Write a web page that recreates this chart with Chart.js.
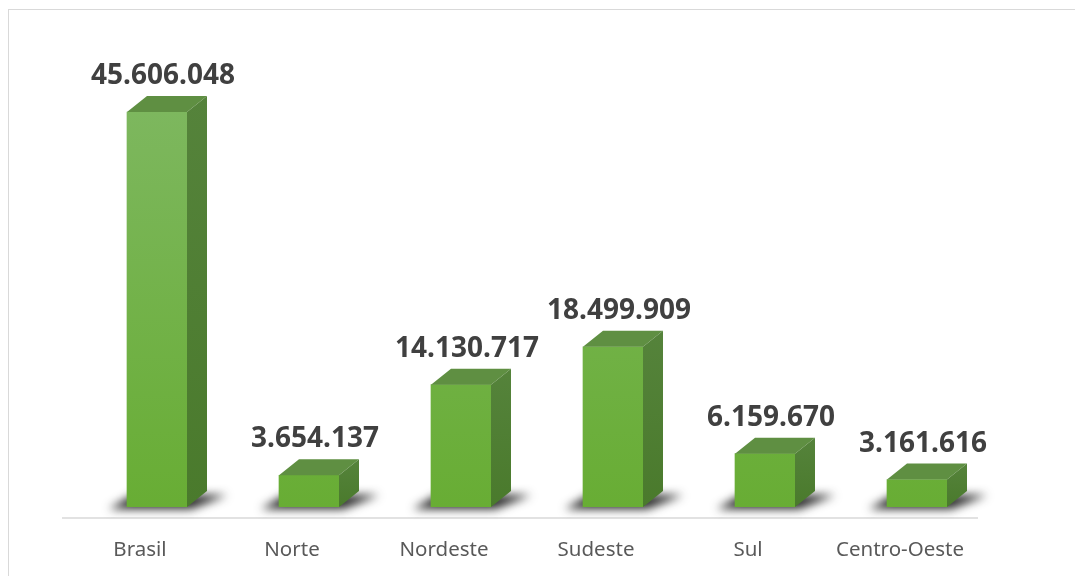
<!DOCTYPE html>
<html>
<head>
<meta charset="utf-8">
<script src="https://cdn.jsdelivr.net/npm/chart.js@4.4.1/dist/chart.umd.min.js"></script>
<style>
html,body{margin:0;padding:0;background:#fff;}
#wrap{position:relative;width:1075px;height:576px;}
</style>
</head>
<body>
<div id="wrap"><canvas id="c" width="1075" height="576"></canvas></div>
<script>
const categories = ["Brasil", "Norte", "Nordeste", "Sudeste", "Sul", "Centro-Oeste"];
const values = [45606048, 3654137, 14130717, 18499909, 6159670, 3161616];
const valueLabels = ["45.606.048", "3.654.137", "14.130.717", "18.499.909", "6.159.670", "3.161.616"];

const DX = 20, DY = 16;

const threeD = {
  id: 'threeD',
  beforeDraw(chart) {
    const ctx = chart.ctx;
    ctx.save();
    ctx.strokeStyle = '#d9d9d9';
    ctx.lineWidth = 1;
    ctx.strokeRect(8.5, 9.5, 1080, 600);
    ctx.restore();
  },
  beforeDatasetsDraw(chart) {
    const ctx = chart.ctx;
    const meta = chart.getDatasetMeta(0);
    const ca = chart.chartArea;
    ctx.save();
    ctx.strokeStyle = '#d9d9d9';
    ctx.lineWidth = 1.5;
    ctx.beginPath();
    ctx.moveTo(ca.left - 19, ca.bottom + 11);
    ctx.lineTo(ca.right - 15, ca.bottom + 11);
    ctx.stroke();
    ctx.restore();
    meta.data.forEach(bar => {
      const w = bar.width, l = bar.x - w / 2, r = bar.x + w / 2, b = bar.base;
      ctx.save();
      ctx.filter = 'blur(5px)';
      ctx.fillStyle = 'rgba(25,25,25,0.95)';
      ctx.beginPath();
      ctx.moveTo(l - 18, b + 2);
      ctx.lineTo(r + 4, b + 2);
      ctx.lineTo(r + DX + 20, b - DY + 4);
      ctx.lineTo(l + 6, b - DY + 4);
      ctx.closePath();
      ctx.fill();
      ctx.restore();
    });
  },
  afterDatasetsDraw(chart) {
    const ctx = chart.ctx;
    const meta = chart.getDatasetMeta(0);
    meta.data.forEach((bar, i) => {
      const w = bar.width, l = bar.x - w / 2, r = bar.x + w / 2, t = bar.y, b = bar.base;
      ctx.save();
      ctx.fillStyle = '#5f8f42';
      ctx.beginPath();
      ctx.moveTo(l, t);
      ctx.lineTo(l + DX, t - DY);
      ctx.lineTo(r + DX, t - DY);
      ctx.lineTo(r, t);
      ctx.closePath();
      ctx.fill();
      const g = ctx.createLinearGradient(0, t - DY, 0, b);
      g.addColorStop(0, '#55833b');
      g.addColorStop(1, '#4a7a2c');
      ctx.fillStyle = g;
      ctx.beginPath();
      ctx.moveTo(r, t);
      ctx.lineTo(r + DX, t - DY);
      ctx.lineTo(r + DX, b - DY);
      ctx.lineTo(r, b);
      ctx.closePath();
      ctx.fill();
      ctx.fillStyle = '#404040';
      ctx.font = 'bold 28px "Noto Sans"';
      ctx.textAlign = 'center';
      ctx.textBaseline = 'alphabetic';
      ctx.fillText(valueLabels[i], bar.x + 6, t - 28);
      ctx.restore();
    });
  }
};

new Chart(document.getElementById('c'), {
  type: 'bar',
  data: {
    labels: categories,
    datasets: [{
      data: values,
      barThickness: 60,
      borderWidth: 0,
      backgroundColor: (c) => {
        const ca = c.chart.chartArea;
        if (!ca) return '#70b040';
        const g = c.chart.ctx.createLinearGradient(0, ca.top, 0, ca.bottom);
        g.addColorStop(0, '#7fb862');
        g.addColorStop(1, '#68ad34');
        return g;
      }
    }]
  },
  options: {
    responsive: false,
    animation: false,
    layout: { padding: { left: 81, right: 82, top: 74, bottom: 0 } },
    plugins: { legend: { display: false }, tooltip: { enabled: false } },
    scales: {
      y: { display: false, min: 0, max: 50000000 },
      x: {
        grid: { display: false, drawTicks: false },
        border: { display: false },
        afterFit: (s) => { s.height = 69; },
        ticks: {
          color: '#595959',
          font: { family: 'Noto Sans', size: 20.5 },
          padding: 31,
          labelOffset: -17
        }
      }
    }
  },
  plugins: [threeD]
});
</script>
</body>
</html>
